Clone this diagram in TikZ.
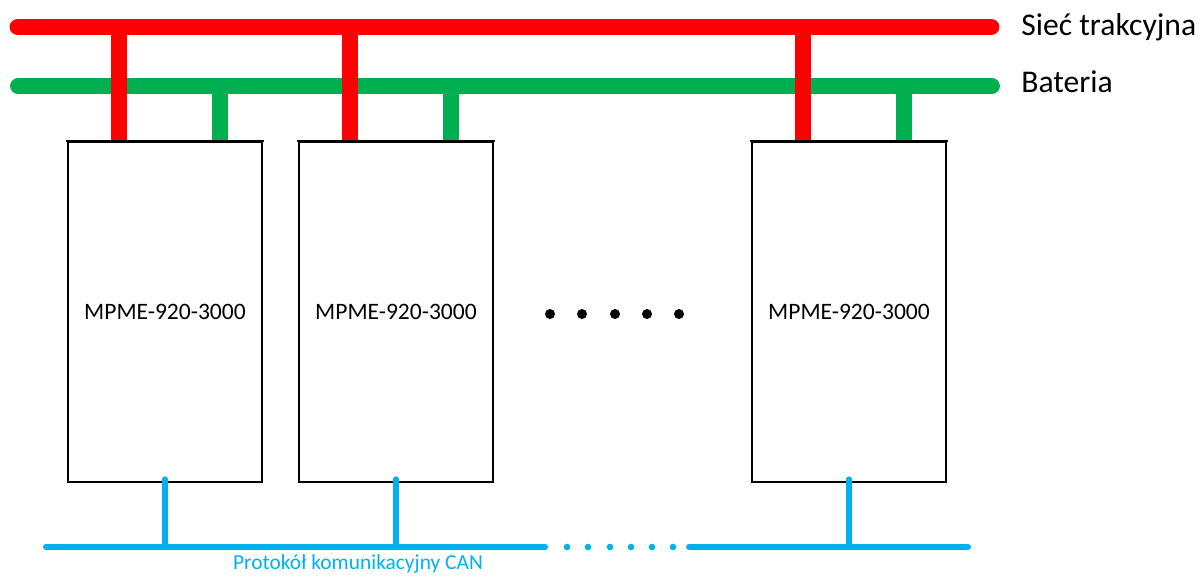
\documentclass[tikz,border=0pt]{standalone}
\usepackage{fontspec}
\setmainfont{Carlito}
\usepackage{tikz}
\usetikzlibrary{positioning,calc}
\definecolor{tractionRed} {RGB}{255,  0,  0}
\definecolor{batteryGreen}{RGB}{  0,176, 80}
\definecolor{canBlue}     {RGB}{  0,176,240}

\begin{document}
\begin{tikzpicture}[x=0.02cm,y=-0.02cm,
    module/.style={draw=black,line width=1.2pt,minimum width=3.88cm,minimum height=6.8cm,
      inner sep=0pt,font=\fontsize{13.4}{16}\selectfont},
    busline/.style={line width=#1,line cap=round}]
  \useasboundingbox (0,0) rectangle (1202,576);
  % busbars
  \coordinate (redL) at (18,27);   \coordinate (redR) at (991,27);
  \coordinate (grnL) at (18,86);   \coordinate (grnR) at (992,86);
  \draw[busline=9.6pt,tractionRed] (redL) -- (redR);
  \draw[busline=9pt,batteryGreen] (grnL) -- (grnR);
  \node[anchor=base west,inner sep=0pt,font=\fontsize{18}{22}\selectfont] (siec) at (1021,35) {Sieć trakcyjna};
  \node[anchor=base west,inner sep=0pt,font=\fontsize{18}{22}\selectfont] (bat) at (1021,92) {Bateria};
  % modules
  \foreach \i/\cx in {1/165,2/396,3/849}{
    \coordinate (r\i) at (\cx-46,27);
    \coordinate (g\i) at (\cx+55,86);
    \node[module] (m\i) at (\cx,312) {MPME-920-3000};
  }
  \foreach \i in {1,2,3}{
    \draw[tractionRed,line width=9.6pt] (r\i) -- (r\i |- m\i.north);
    \draw[batteryGreen,line width=9pt] (g\i) -- (g\i |- m\i.north);
    \draw[line width=1.2pt,line cap=rect] (m\i.north west) -- (m\i.north east);
  }
  \foreach \x in {550,582,615,647,679}
    \fill[black] (\x,314) circle (5);
  % CAN bus
  \coordinate (canL) at (46,547);  \coordinate (canA) at (545,547);
  \coordinate (canB) at (689,547); \coordinate (canR) at (968,547);
  \draw[busline=3.4pt,canBlue] (canL) -- (canA);
  \draw[busline=3.4pt,canBlue] (canB) -- (canR);
  \foreach \x in {567,588,610,631,652,673}
    \fill[canBlue] (\x,547) circle (3.3);
  \foreach \i in {1,2,3}
    \draw[busline=3pt,canBlue] ($(m\i.south)+(0,-4)$) -- (m\i.south |- canL);
  \node[anchor=base,canBlue,font=\fontsize{12.2}{14}\selectfont] (can) at (358,569) {Protokół komunikacyjny CAN};
\end{tikzpicture}
\end{document}
